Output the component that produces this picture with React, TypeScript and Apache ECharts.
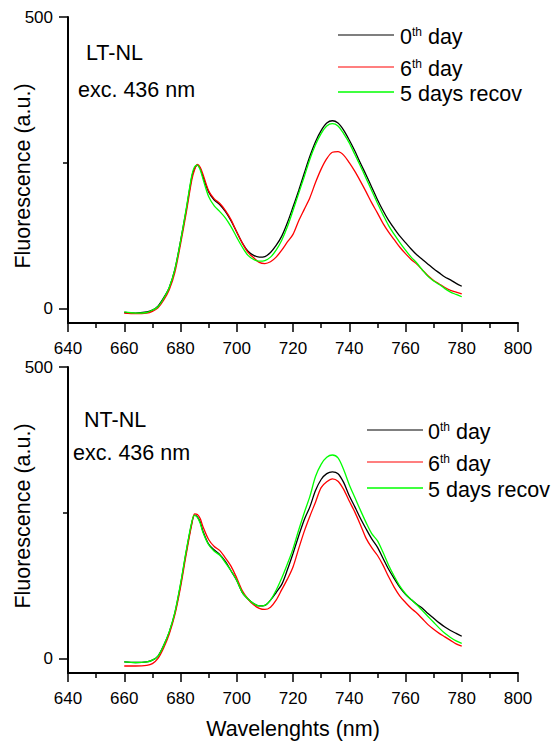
import React, { useEffect, useRef } from 'react';
import * as echarts from 'echarts';

const FONT = 'Liberation Sans, Arial, Helvetica, sans-serif';
const BIG = 21.5;

const wavelengths = [
  660, 664, 668, 670, 672, 674, 676, 678, 680, 682, 684, 685, 686, 687, 688, 690, 692, 694, 696, 698,
  700, 702, 704, 706, 708, 710, 712, 714, 716, 718, 720, 722, 724, 726, 728, 730, 732, 734, 736, 738,
  740, 742, 744, 746, 748, 750, 752, 754, 756, 758, 760, 762, 764, 766, 768, 770, 772, 774, 776, 778, 780,
];

// LT-NL panel
const ltDay0 = [
  -7, -8, -6, -3, 4, 18, 36, 67, 115, 168, 225, 240, 246, 240, 226, 200, 186, 178, 166, 150,
  131, 112, 98, 91, 88, 89, 96, 108, 124, 147, 174, 202, 232, 261, 286, 305, 318, 322, 318, 306,
  289, 270, 249, 229, 208, 187, 168, 151, 137, 124, 113, 102, 92, 84, 76, 68, 61, 54, 49, 43, 38,
];
const ltDay6 = [
  -8, -9, -8, -5, 1, 14, 32, 62, 110, 163, 220, 238, 247, 242, 230, 202, 188, 180, 168, 152,
  131, 112, 96, 87, 79, 77, 80, 88, 100, 114, 127, 150, 170, 190, 216, 239, 257, 268, 269, 263,
  250, 235, 218, 200, 181, 164, 146, 131, 118, 105, 94, 84, 76, 66, 56, 48, 42, 36, 31, 28, 25,
];
const ltRecov = [
  -6, -8, -7, -3, 3, 17, 36, 67, 115, 170, 228, 243, 246, 238, 222, 192, 176, 166, 155, 140,
  122, 105, 91, 84, 81, 82, 88, 100, 117, 140, 168, 197, 226, 256, 281, 300, 313, 317, 313, 300,
  284, 264, 244, 223, 202, 181, 161, 142, 127, 113, 100, 88, 78, 66, 55, 47, 41, 34, 28, 24, 20,
];

// NT-NL panel
const ntDay0 = [
  -6, -7, -6, -3, 4, 22, 45, 78, 126, 182, 232, 246, 243, 234, 218, 196, 186, 178, 166, 150,
  134, 113, 102, 94, 90, 91, 100, 113, 127, 152, 180, 210, 238, 260, 288, 307, 317, 320, 317, 302,
  279, 260, 240, 222, 205, 191, 172, 153, 137, 122, 110, 101, 93, 86, 77, 69, 61, 54, 48, 43, 38,
];
const ntDay6 = [
  -13, -13, -12, -9, 0, 18, 42, 75, 122, 178, 230, 248, 247, 240, 226, 204, 192, 185, 172, 158,
  138, 116, 102, 92, 86, 84, 88, 100, 118, 136, 157, 188, 218, 244, 268, 293, 303, 308, 304, 290,
  270, 251, 229, 206, 190, 177, 160, 140, 122, 107, 96, 86, 78, 68, 58, 50, 43, 37, 31, 25, 21,
];
const ntRecov = [
  -6, -7, -6, -3, 4, 22, 46, 79, 128, 184, 234, 246, 242, 232, 216, 195, 184, 177, 164, 150,
  134, 113, 102, 94, 90, 91, 100, 117, 138, 162, 188, 220, 250, 278, 312, 333, 345, 349, 344, 324,
  298, 276, 254, 233, 214, 202, 182, 160, 141, 124, 111, 101, 92, 82, 72, 62, 52, 43, 36, 30, 26,
];

const seriesNames = ['0th day', '6th day', '5 days recov'];
const seriesColors = ['#000000', '#ff0000', '#00ff00'];
const legendLabels = ['{n|0}{s|th}{n| day}', '{n|6}{s|th}{n| day}', '{n|5 days recov}'];
const panelNames = ['LT-NL', 'NT-NL'];
const excitationLabel = 'exc. 436 nm';
const xMin = 640;
const xMax = 800;
const xStep = 20;
const yMin = -25;
const yMax = 500;
const yMajorTicks = [0, 500];
const yMinorTicks = [250];
const yTitle = 'Fluorescence (a.u.)';
const xTitle = 'Wavelenghts (nm)';

const panels = [
  [ltDay0, ltDay6, ltRecov],
  [ntDay0, ntDay6, ntRecov],
];

const pairs = (vals: number[]) => wavelengths.map((w, i) => [w, vals[i]]);

function legendGraphic(x1: number, x2: number, tx: number, ys: number[]) {
  const els: any[] = [];
  ys.forEach((y, i) => {
    els.push({
      type: 'line',
      shape: { x1, y1: y, x2, y2: y },
      style: { stroke: seriesColors[i], lineWidth: i === 2 ? 1.5 : 1.2 },
    });
    els.push({
      type: 'text',
      x: tx,
      y: y + 2,
      style: {
        text: legendLabels[i],
        fill: '#000',
        fontFamily: FONT,
        fontSize: BIG,
        align: 'left',
        verticalAlign: 'middle',
        textAlign: 'left',
        textVerticalAlign: 'middle',
        rich: {
          n: { fontSize: BIG, fontFamily: FONT, fill: '#000', color: '#000' },
          s: { fontSize: 12, fontFamily: FONT, fill: '#000', color: '#000', verticalAlign: 'top' },
        },
      },
    });
  });
  return els;
}

function plainText(text: string, x: number, y: number, align = 'left', rotation = 0) {
  return {
    type: 'text',
    x,
    y,
    rotation,
    style: {
      text,
      fill: '#000',
      fontFamily: FONT,
      fontSize: BIG,
      align,
      verticalAlign: 'middle',
      textAlign: align,
      textVerticalAlign: 'middle',
    },
  };
}

export default function App() {
  const ref = useRef<HTMLDivElement>(null);
  useEffect(() => {
    if (!ref.current) return;
    const chart = echarts.init(ref.current, null, { renderer: 'svg' });
    const gridTops = [17, 367];
    const xAxes = gridTops.map((_, gi) => ({
      type: 'value',
      gridIndex: gi,
      min: xMin,
      max: xMax,
      interval: xStep,
      name: gi === 1 ? xTitle : '',
      nameLocation: 'middle',
      nameGap: 45,
      nameTextStyle: { fontSize: BIG, color: '#000', fontFamily: FONT },
      axisLine: { show: true, onZero: false, lineStyle: { color: '#000', width: 2 } },
      axisTick: { show: true, length: 9, lineStyle: { color: '#000', width: 1.5 } },
      minorTick: { show: true, splitNumber: 2, length: 5, lineStyle: { color: '#000', width: 1.5 } },
      splitLine: { show: false },
      minorSplitLine: { show: false },
      axisLabel: { fontSize: 17, color: '#000', fontFamily: FONT, margin: 17 },
    }));
    const yAxes: any[] = [];
    gridTops.forEach((_, gi) => {
      yAxes.push({
        type: 'value',
        gridIndex: gi,
        min: yMin,
        max: yMax,
        position: 'left',
        axisLine: { show: true, onZero: false, lineStyle: { color: '#000', width: 2 } },
        axisTick: { show: true, length: 9, customValues: yMajorTicks, lineStyle: { color: '#000', width: 1.5 } },
        axisLabel: { show: true, customValues: yMajorTicks, fontSize: 17, color: '#000', fontFamily: FONT, margin: 15 },
        splitLine: { show: false },
      });
      yAxes.push({
        type: 'value',
        gridIndex: gi,
        min: yMin,
        max: yMax,
        position: 'left',
        offset: 0,
        axisLine: { show: false, onZero: false },
        axisTick: { show: true, length: 5, customValues: yMinorTicks, lineStyle: { color: '#000', width: 1.5 } },
        axisLabel: { show: false },
        splitLine: { show: false },
      });
    });
    const series: any[] = [];
    panels.forEach((panel, gi) => {
      panel.forEach((vals, si) => {
        series.push({
          type: 'line',
          name: seriesNames[si],
          xAxisIndex: gi,
          yAxisIndex: gi * 2,
          data: pairs(vals),
          showSymbol: false,
          symbol: 'none',
          smooth: 0.3,
          lineStyle: { color: seriesColors[si], width: 1.3 },
          itemStyle: { color: seriesColors[si] },
          z: 2 + si,
        });
      });
    });
    chart.setOption({
      animation: false,
      backgroundColor: '#ffffff',
      textStyle: { fontFamily: FONT },
      grid: gridTops.map((t) => ({
        left: 68,
        top: t,
        width: 450,
        height: 306,
        containLabel: false,
        outerBoundsMode: 'none',
      })),
      xAxis: xAxes,
      yAxis: yAxes,
      series,
      graphic: [
        plainText(yTitle, 23, 176, 'center', Math.PI / 2),
        plainText(yTitle, 23, 516, 'center', Math.PI / 2),
        plainText(panelNames[0], 86, 53),
        plainText(excitationLabel, 78, 90),
        plainText(panelNames[1], 84, 420),
        plainText(excitationLabel, 73, 453),
        ...legendGraphic(338, 394, 400, [35, 67, 92]),
        ...legendGraphic(367, 423, 428, [430, 462, 488]),
      ],
    });
    return () => chart.dispose();
  }, []);
  return (
    <div
      ref={ref}
      style={{ position: 'absolute', left: 0, top: 0, width: 554, height: 744, background: '#fff' }}
    />
  );
}
